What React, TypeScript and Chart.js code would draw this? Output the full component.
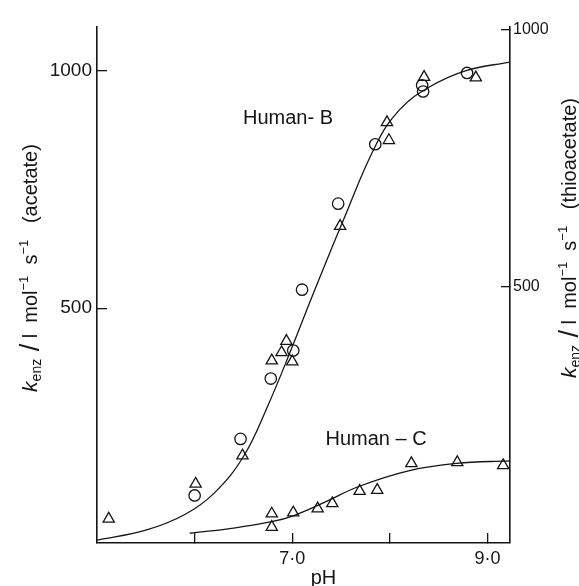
import React, { useEffect, useRef } from 'react';
import { Chart, registerables } from 'chart.js';

Chart.register(...registerables);

const FONT = '"Liberation Sans", Arial, Helvetica, sans-serif';
const INK = '#151515';

// Axis ticks
const xTicks = [6, 7, 8, 9];
const xTickLabels: Record<number, string> = { 7: '7·0', 9: '9·0' };
const leftTicks = [500, 1000];
const rightTicks = [500, 1000];

// Human-B, acetate (circles) – left axis
const bCirclePH = [6.0, 6.47, 6.78, 7.01, 7.1, 7.47, 7.85, 8.33, 8.34, 8.79];
const bCircleK = [106, 225, 352, 411, 539, 720, 845, 969, 956, 995];

// Human-B, thioacetate (triangles) – right axis
const bTriPH = [5.12, 6.01, 6.49, 6.79, 6.94, 6.89, 7.0, 7.49, 7.97, 7.99, 8.35, 8.88];
const bTriK = [47, 115, 170, 355, 393, 371, 353, 617, 819, 784, 907, 906];

// Human-C, thioacetate (triangles) – right axis
const cTriPH = [6.79, 6.79, 7.01, 7.26, 7.41, 7.69, 7.87, 8.22, 8.69, 9.16];
const cTriK = [57, 31, 59, 67, 77, 101, 103, 155, 157, 151];

// Fitted curves
const bCurvePH = [5.0, 5.5, 5.9, 6.2, 6.5, 6.75, 7.0, 7.2, 7.51, 7.86, 8.1, 8.4, 8.78, 9.23];
const bCurveK = [12, 33, 66, 111, 188, 295, 419, 523, 679, 845, 918, 965, 1000, 1018];
const cCurvePH = [5.95, 6.4, 6.8, 7.01, 7.34, 7.68, 8.2, 8.68, 9.23];
const cCurveK = [19, 29, 42, 53, 80, 110, 141, 155, 160];

const pts = (xs: number[], ys: number[]) => xs.map((x, i) => ({ x, y: ys[i] }));

type Part = { t: string; size: number; italic?: boolean; dy?: number };
const titleParts = (sub: string): Part[] => [
  { t: 'k', size: 21, italic: true },
  { t: 'enz', size: 14, dy: 4 },
  { t: ' /', size: 27, dy: 2 },
  { t: ' l  mol', size: 20 },
  { t: '−1', size: 13, dy: -9 },
  { t: '  s', size: 20 },
  { t: '−1', size: 13, dy: -9 },
  { t: '   (' + sub + ')', size: 20 },
];

const fontOf = (p: Part) => `${p.italic ? 'italic ' : ''}${p.size}px ${FONT}`;

function drawRotated(ctx: CanvasRenderingContext2D, parts: Part[], baseX: number, cy: number) {
  let total = 0;
  const widths = parts.map((p) => {
    ctx.font = fontOf(p);
    const w = ctx.measureText(p.t).width;
    total += w;
    return w;
  });
  ctx.save();
  ctx.translate(baseX, cy);
  ctx.rotate(-Math.PI / 2);
  ctx.textBaseline = 'alphabetic';
  ctx.textAlign = 'left';
  let pos = -total / 2;
  parts.forEach((p, i) => {
    ctx.font = fontOf(p);
    ctx.fillText(p.t, pos, p.dy || 0);
    pos += widths[i];
  });
  ctx.restore();
}

const textPlugin = {
  id: 'figureTexts',
  afterDraw(chart: any) {
    const ctx: CanvasRenderingContext2D = chart.ctx;
    const { left, right, bottom } = chart.chartArea;
    const x = chart.scales.x;
    const yL = chart.scales.yL;
    const yR = chart.scales.yR;
    ctx.save();
    ctx.fillStyle = INK;
    ctx.font = `20px ${FONT}`;
    ctx.textAlign = 'left';
    ctx.textBaseline = 'middle';
    ctx.fillText('Human- B', x.getPixelForValue(6.495), yL.getPixelForValue(899));
    ctx.fillText('Human – C', x.getPixelForValue(7.34), yR.getPixelForValue(202));
    ctx.textAlign = 'center';
    ctx.font = `20px ${FONT}`;
    ctx.fillText('pH', (left + right) / 2 + 20, bottom + 35);
    drawRotated(ctx, titleParts('acetate'), left - 60, 268);
    drawRotated(ctx, titleParts('thioacetate'), right + 66, 238);
    ctx.restore();
  },
};

export default function App() {
  const ref = useRef<HTMLCanvasElement | null>(null);

  useEffect(() => {
    document.body.style.margin = '0';
    if (!ref.current) return;
    const markerBase = {
      type: 'scatter' as const,
      borderColor: INK,
      backgroundColor: 'rgba(0,0,0,0)',
      pointBorderWidth: 1.3,
      showLine: false,
    };
    const curveBase = {
      type: 'scatter' as const,
      showLine: true,
      pointRadius: 0,
      borderColor: INK,
      borderWidth: 1.3,
      backgroundColor: 'rgba(0,0,0,0)',
      tension: 0.4,
      fill: false,
    };
    const chart = new Chart(ref.current, {
      type: 'scatter',
      data: {
        datasets: [
          { ...curveBase, label: 'Human-B fit', data: pts(bCurvePH, bCurveK), yAxisID: 'yL' },
          { ...curveBase, label: 'Human-C fit', data: pts(cCurvePH, cCurveK), yAxisID: 'yR' },
          { ...markerBase, label: 'Human-B acetate', data: pts(bCirclePH, bCircleK), yAxisID: 'yL', pointStyle: 'circle', pointRadius: 5.7 },
          { ...markerBase, label: 'Human-B thioacetate', data: pts(bTriPH, bTriK), yAxisID: 'yR', pointStyle: 'triangle', pointRadius: 6.5 },
          { ...markerBase, label: 'Human-C thioacetate', data: pts(cTriPH, cTriK), yAxisID: 'yR', pointStyle: 'triangle', pointRadius: 6.5 },
        ] as any,
      },
      options: {
        animation: false,
        responsive: false,
        events: [],
        layout: { padding: { top: 17, left: 0, right: 0, bottom: 0 } },
        plugins: { legend: { display: false }, tooltip: { enabled: false }, title: { display: false } },
        scales: {
          x: {
            type: 'linear',
            position: 'bottom',
            min: 5,
            max: 9.23,
            afterBuildTicks: (s: any) => { s.ticks = xTicks.map((v) => ({ value: v })); },
            afterFit: (s: any) => { s.height = 43; },
            grid: { drawOnChartArea: false, drawTicks: true, tickLength: -10, color: INK, lineWidth: 1.3 },
            border: { display: true, color: INK, width: 1.6 },
            ticks: {
              padding: 15,
              color: INK,
              font: { family: FONT, size: 18 },
              maxRotation: 0,
              autoSkip: false,
              callback: (v: any) => xTickLabels[v as number] ?? '',
            },
          },
          yL: {
            type: 'linear',
            position: 'left',
            min: 6,
            max: 1093,
            afterBuildTicks: (s: any) => { s.ticks = leftTicks.map((v) => ({ value: v })); },
            afterFit: (s: any) => { s.width = 97; },
            grid: { drawOnChartArea: false, drawTicks: true, tickLength: -10, color: INK, lineWidth: 1.3 },
            border: { display: true, color: INK, width: 1.6 },
            ticks: { padding: 15, color: INK, font: { family: FONT, size: 19 }, autoSkip: false, callback: (v: any) => String(v) },
          },
          yR: {
            type: 'linear',
            position: 'right',
            min: 0,
            max: 1005.7,
            afterBuildTicks: (s: any) => { s.ticks = rightTicks.map((v) => ({ value: v })); },
            afterFit: (s: any) => { s.width = 69; },
            grid: { drawOnChartArea: false, drawTicks: true, tickLength: -9, color: INK, lineWidth: 1.3 },
            border: { display: true, color: INK, width: 1.6 },
            ticks: { padding: 12, color: INK, font: { family: FONT, size: 16 }, autoSkip: false, callback: (v: any) => String(v) },
          },
        },
      } as any,
      plugins: [textPlugin],
    });
    return () => chart.destroy();
  }, []);

  return (
    <div style={{ width: 579, height: 586, background: '#fff' }}>
      <canvas ref={ref} width={579} height={586} style={{ display: 'block' }} />
    </div>
  );
}
